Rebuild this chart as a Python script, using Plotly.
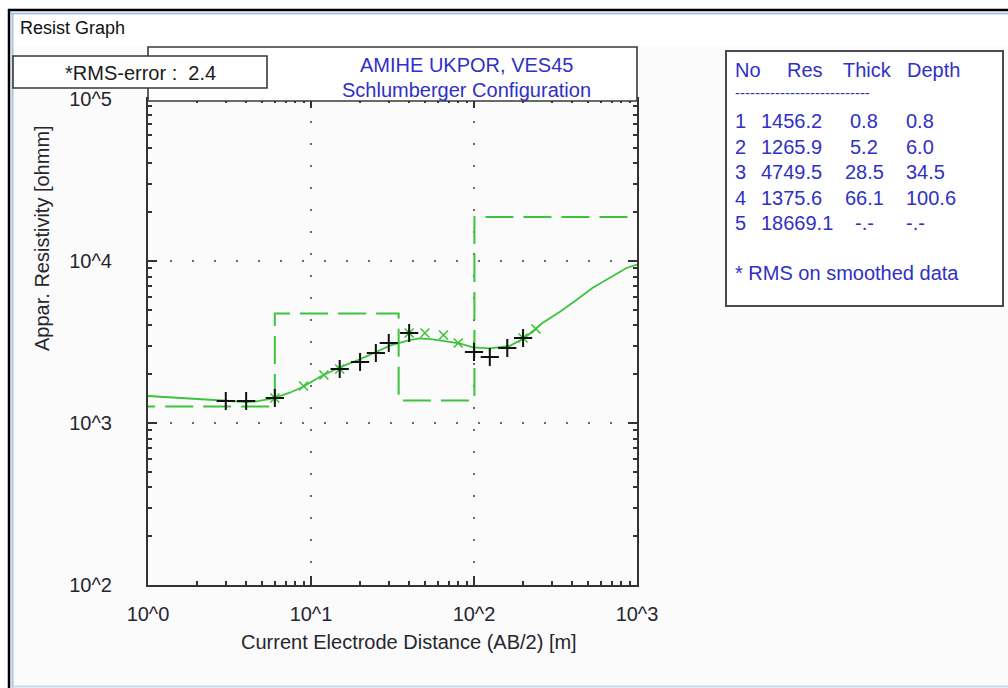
import plotly.graph_objects as go

# ---------------- data ----------------
ab2_curve = [1.0, 1.81, 2.29, 3.03, 4.03, 4.63, 5.86, 7.41, 8.95, 11.3, 15.0, 19.9, 25.2, 31.1,
             40.3, 46.4, 55.7, 70.8, 81.6, 98.5, 124.6, 165, 204, 263, 335, 425, 533, 677, 862, 1000]
rho_curve = [1468, 1413, 1387, 1367, 1348, 1361, 1421, 1538, 1675, 1923, 2207, 2473, 2755, 3030,
             3253, 3333, 3286, 3176, 3105, 2933, 2891, 2987, 3347, 4142, 4843, 5744, 6813, 7853, 9053, 9500]

ab2_obs = [3, 4, 6, 15, 20, 25, 30, 40, 100, 125, 160, 200]
rho_obs = [1367, 1367, 1427, 2154, 2379, 2704, 3117, 3594, 2744, 2555, 2904, 3347]

ab2_smooth = [6, 9, 12, 15, 40, 50, 65, 80, 200, 240]
rho_smooth = [1427, 1692, 1978, 2154, 3594, 3594, 3493, 3117, 3347, 3803]

layer_no = [1, 2, 3, 4, 5]
layer_res = [1456.2, 1265.9, 4749.5, 1375.6, 18669.1]
layer_thick = [0.8, 5.2, 28.5, 66.1, None]
layer_depth = [0.8, 6.0, 34.5, 100.6, None]

x_tickvals = [1, 10, 100, 1000]
x_ticktext = ["10^0", "10^1", "10^2", "10^3"]
y_tickvals = [100, 1000, 10000, 100000]
y_ticktext = ["10^2", "10^3", "10^4", "10^5"]

rms_error = 2.4
title_lines = ["AMIHE UKPOR, VES45", "Schlumberger Configuration"]

# ---------------- layout geometry ----------------
W, H = 1008, 688
PL, PR, PT, PB = 148, 637, 99, 585
FONT = "Liberation Sans, Arial, sans-serif"
BLUE = "#3030c4"
GREEN = "#3cc43c"
DARK = "#26262e"


def fx(x):
    return (x - PL) / (PR - PL)


def fy(y):
    return (PB - y) / (PB - PT)


# step model from layer table
step_x = [0.1] + [d for d in layer_depth if d is not None] + [1000]
step_y = layer_res + [layer_res[-1]]

fig = go.Figure()
fig.add_trace(go.Scatter(x=step_x, y=step_y, mode="lines", line_shape="hv",
                         line=dict(color=GREEN, width=2, dash="28px,10px"), hoverinfo="skip"))
fig.add_trace(go.Scatter(x=ab2_curve, y=rho_curve, mode="lines",
                         line=dict(color=GREEN, width=1.8), hoverinfo="skip"))
fig.add_trace(go.Scatter(x=ab2_smooth, y=rho_smooth, mode="markers",
                         marker=dict(symbol="x-thin", size=9, line=dict(color=GREEN, width=1.6))))
fig.add_trace(go.Scatter(x=ab2_obs, y=rho_obs, mode="markers",
                         marker=dict(symbol="cross-thin", size=13, line=dict(color="#111111", width=2))))

minor_x = [m * 10 ** k for k in range(0, 3) for m in range(2, 10)]
minor_y = [m * 10 ** k for k in range(2, 5) for m in range(2, 10)]

axis_common = dict(type="log", showline=True, linecolor="#333333", linewidth=2,
                   ticks="inside", ticklen=9, tickwidth=1.5, tickcolor="#333333", mirror="ticks",
                   showgrid=True, gridcolor="#6a6a6a", gridwidth=1.6, griddash="2px,20px",
                   zeroline=False, tickfont=dict(family=FONT, size=20, color=DARK))

fig.update_xaxes(**axis_common, range=[0, 3], tickmode="array", tickvals=x_tickvals, ticktext=x_ticktext,
                 ticklabelstandoff=10,
                 minor=dict(tickmode="array", tickvals=minor_x, ticks="inside", ticklen=4,
                            tickcolor="#333333", showgrid=False))
fig.update_yaxes(**axis_common, range=[2, 5], tickmode="array", tickvals=y_tickvals, ticktext=y_ticktext,
                 ticklabelstandoff=30,
                 minor=dict(tickmode="array", tickvals=minor_y, ticks="inside", ticklen=4,
                            tickcolor="#333333", showgrid=False))

shapes = []
# window body background
shapes.append(dict(type="rect", xref="paper", yref="paper", x0=fx(12), x1=fx(1008), y0=fy(46), y1=fy(686),
                   fillcolor="#fbfbfb", line=dict(width=0), layer="below"))
# window frame
shapes.append(dict(type="line", xref="paper", yref="paper", x0=fx(8), x1=fx(1008), y0=fy(10), y1=fy(10),
                   line=dict(color="#000000", width=2.5)))
shapes.append(dict(type="line", xref="paper", yref="paper", x0=fx(11), x1=fx(1008), y0=fy(13.5), y1=fy(13.5),
                   line=dict(color="#a9c3e6", width=2)))
shapes.append(dict(type="line", xref="paper", yref="paper", x0=fx(9), x1=fx(9), y0=fy(9), y1=fy(688),
                   line=dict(color="#000000", width=2.5)))
shapes.append(dict(type="line", xref="paper", yref="paper", x0=fx(12.5), x1=fx(12.5), y0=fy(13), y1=fy(688),
                   line=dict(color="#a9c3e6", width=2)))
shapes.append(dict(type="line", xref="paper", yref="paper", x0=fx(12), x1=fx(1008), y0=fy(686.5), y1=fy(686.5),
                   line=dict(color="#c9daf0", width=2)))
# title box
shapes.append(dict(type="rect", xref="paper", yref="paper", x0=fx(148), x1=fx(637), y0=fy(101), y1=fy(47),
                   fillcolor="#ffffff", line=dict(color="#3a3a3a", width=1.6), layer="above"))
# RMS box
shapes.append(dict(type="rect", xref="paper", yref="paper", x0=fx(13), x1=fx(267), y0=fy(88), y1=fy(56),
                   fillcolor="#ffffff", line=dict(color="#3a3a3a", width=1.6), layer="above"))
# table box
shapes.append(dict(type="rect", xref="paper", yref="paper", x0=fx(726), x1=fx(1003), y0=fy(306), y1=fy(51),
                   fillcolor="#ffffff", line=dict(color="#4a4a4a", width=2), layer="above"))

ann = []


def text(x, y, s, size=20, color=DARK, xanchor="center", yanchor="middle", angle=0):
    ann.append(dict(x=fx(x), y=fy(y), xref="paper", yref="paper", text=s, showarrow=False,
                    xanchor=xanchor, yanchor=yanchor, textangle=angle,
                    font=dict(family=FONT, size=size, color=color)))


text(18, 28, "Resist Graph", size=18, color="#111111", xanchor="left")
text(140.5, 73, f"*RMS-error :  {rms_error}", size=20, color="#1a1a1a")
text(466, 65, title_lines[0], size=20, color=BLUE)
text(466, 90, title_lines[1], size=20, color=BLUE)
text(42, 238, "Appar. Resistivity [ohmm]", size=20, color=DARK, angle=-90)
text(409, 642, "Current Electrode Distance (AB/2) [m]", size=20, color=DARK)

# layer table
text(733, 70, "No", color=BLUE, xanchor="left")
text(785, 70, "Res", color=BLUE, xanchor="left")
text(841, 70, "Thick", color=BLUE, xanchor="left")
text(905, 70, "Depth", color=BLUE, xanchor="left")
text(733, 93, "-" * 27, size=15, color=BLUE, xanchor="left")
row_y = [121, 146.5, 172, 197.5, 223]
for i, n in enumerate(layer_no):
    yy = row_y[i]
    text(748, yy, str(n), color=BLUE, xanchor="right")
    text(759, yy, f"{layer_res[i]:.1f}", color=BLUE, xanchor="left")
    t = "-.-" if layer_thick[i] is None else f"{layer_thick[i]:.1f}"
    d = "-.-" if layer_depth[i] is None else f"{layer_depth[i]:.1f}"
    text(864, yy, t, color=BLUE, xanchor="center")
    text(904, yy, d, color=BLUE, xanchor="left")
text(733, 273, "* RMS on smoothed data", color=BLUE, xanchor="left")

fig.update_layout(width=W, height=H, autosize=False,
                  margin=dict(l=PL, r=W - PR, t=PT, b=H - PB, pad=0),
                  paper_bgcolor="#ffffff", plot_bgcolor="rgba(0,0,0,0)",
                  showlegend=False, shapes=shapes, annotations=ann)

fig.write_html("out.html")
